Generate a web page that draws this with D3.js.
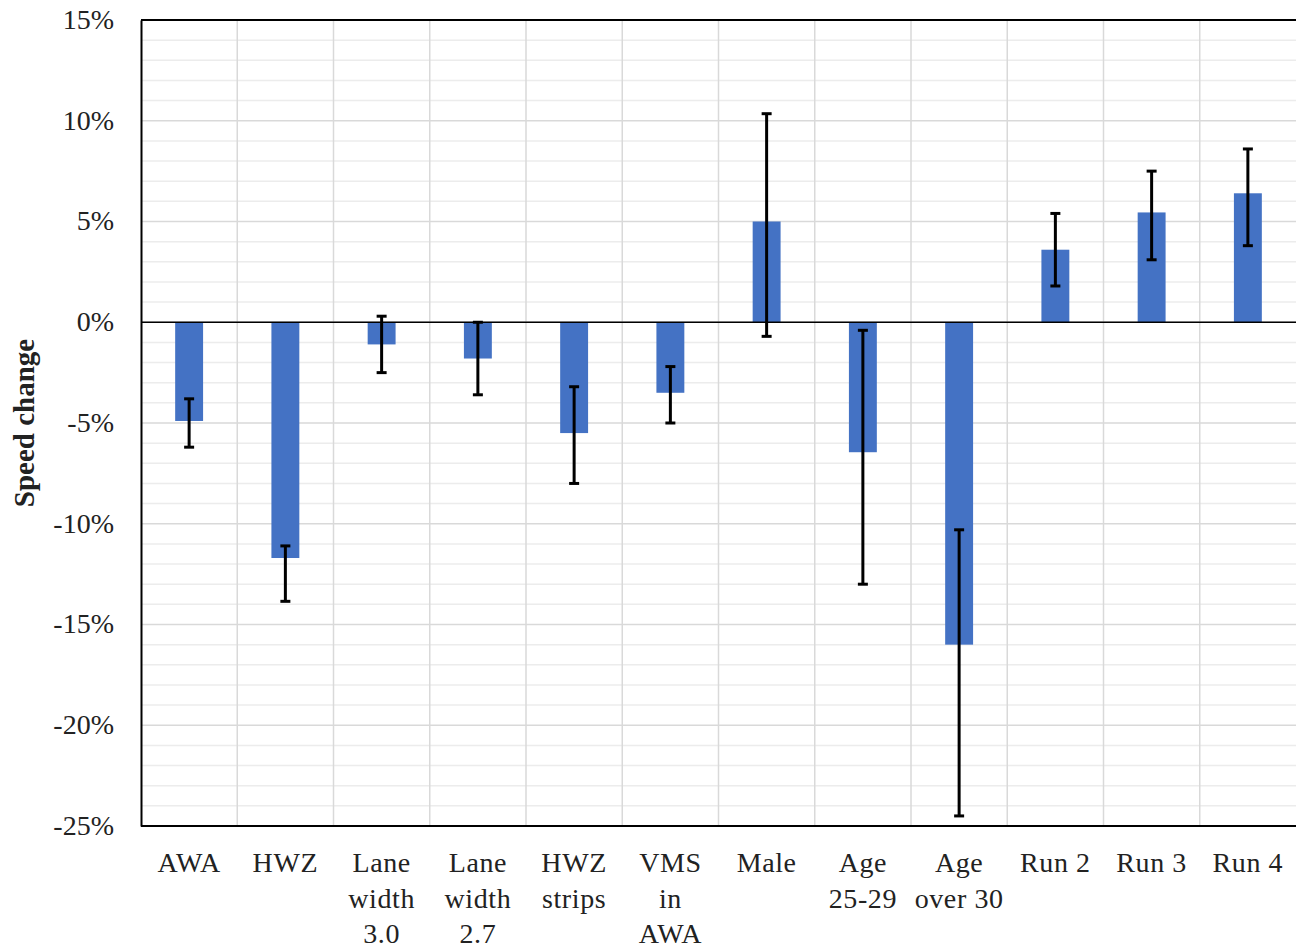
<!DOCTYPE html>
<html>
<head>
<meta charset="utf-8">
<script src="https://cdn.jsdelivr.net/npm/d3@7"></script>
<style>
  body { margin: 0; background: #fff; }
  svg { font-family: "Liberation Serif", "Times New Roman", serif; }
  .tick text { font-size: 28px; fill: #222; font-family: "Liberation Serif", "Times New Roman", serif; }
</style>
</head>
<body>
<script>
const categories = [
  ['AWA'], ['HWZ'], ['Lane', 'width', '3.0'], ['Lane', 'width', '2.7'],
  ['HWZ', 'strips'], ['VMS', 'in', 'AWA'], ['Male'], ['Age', '25-29'],
  ['Age', 'over 30'], ['Run 2'], ['Run 3'], ['Run 4']
]
const speedChange = [-4.9, -11.7, -1.1, -1.8, -5.5, -3.5, 5.0, -6.45, -16.0, 3.6, 5.45, 6.4]
const errHigh = [-3.8, -11.1, 0.3, 0.0, -3.2, -2.2, 10.35, -0.4, -10.3, 5.4, 7.5, 8.6]
const errLow = [-6.2, -13.85, -2.5, -3.6, -8.0, -5.0, -0.7, -13.0, -24.5, 1.8, 3.1, 3.8]
const yTicks = [15, 10, 5, 0, -5, -10, -15, -20, -25]

const svg = d3.select('body')
  .append('svg')
  .attr('width', 1296)
  .attr('height', 949)

const margin = { top: 20, right: 0, bottom: 123, left: 141 }
const width = +svg.attr('width') - margin.left - margin.right
const height = +svg.attr('height') - margin.top - margin.bottom

const ids = d3.range(categories.length)
const xScale = d3.scaleBand().domain(ids).range([0, width]).paddingInner(0.71).paddingOuter(0.355)
const xBand = d3.scaleBand().domain(ids).range([0, width])
const yScale = d3.scaleLinear().domain([-25, 15]).range([height, 0])

const g = svg.append('g')
  .attr('transform', 'translate(' + margin.left + ',' + margin.top + ')')

// minor gridlines (1%)
g.selectAll('.minor')
  .data(d3.range(-24, 15).filter(d => d % 5 !== 0))
  .enter()
  .append('line')
  .attr('x1', 0).attr('x2', width)
  .attr('y1', d => yScale(d)).attr('y2', d => yScale(d))
  .attr('stroke', '#ececec').attr('stroke-width', 1.5)

// major gridlines
g.selectAll('.major')
  .data(yTicks)
  .enter()
  .append('line')
  .attr('x1', 0).attr('x2', width)
  .attr('y1', d => yScale(d)).attr('y2', d => yScale(d))
  .attr('stroke', '#d9d9d9').attr('stroke-width', 1.5)

// vertical gridlines between categories
g.selectAll('.vgrid')
  .data(ids.slice(1))
  .enter()
  .append('line')
  .attr('x1', d => xBand(d)).attr('x2', d => xBand(d))
  .attr('y1', 0).attr('y2', height)
  .attr('stroke', '#d9d9d9').attr('stroke-width', 1.5)

// bars
g.selectAll('rect')
  .data(speedChange)
  .enter()
  .append('rect')
  .attr('x', (d, i) => xScale(i))
  .attr('width', xScale.bandwidth())
  .attr('y', d => yScale(Math.max(0, d)))
  .attr('height', d => Math.abs(yScale(d) - yScale(0)))
  .attr('fill', '#4472c4')

// zero line and borders
g.append('line')
  .attr('x1', 0).attr('x2', width)
  .attr('y1', yScale(0)).attr('y2', yScale(0))
  .attr('stroke', '#000').attr('stroke-width', 1.5)
g.append('line')
  .attr('x1', 0).attr('x2', width)
  .attr('y1', 0).attr('y2', 0)
  .attr('stroke', '#000').attr('stroke-width', 2)
g.append('line')
  .attr('x1', 0).attr('x2', width)
  .attr('y1', height).attr('y2', height)
  .attr('stroke', '#000').attr('stroke-width', 2)

// error bars
const cx = i => xScale(i) + xScale.bandwidth() / 2
const err = g.selectAll('.err')
  .data(ids)
  .enter()
  .append('g')
err.append('line')
  .attr('x1', cx).attr('x2', cx)
  .attr('y1', i => yScale(errHigh[i])).attr('y2', i => yScale(errLow[i]))
  .attr('stroke', '#000').attr('stroke-width', 3)
err.append('line')
  .attr('x1', i => cx(i) - 5).attr('x2', i => cx(i) + 5)
  .attr('y1', i => yScale(errHigh[i])).attr('y2', i => yScale(errHigh[i]))
  .attr('stroke', '#000').attr('stroke-width', 3)
err.append('line')
  .attr('x1', i => cx(i) - 5).attr('x2', i => cx(i) + 5)
  .attr('y1', i => yScale(errLow[i])).attr('y2', i => yScale(errLow[i]))
  .attr('stroke', '#000').attr('stroke-width', 3)

// Y-Axis
const yAxis = g.append('g')
  .call(d3.axisLeft(yScale).tickValues(yTicks).tickSize(0).tickPadding(27)
    .tickFormat(d => d + '%'))
  .attr('font-family', null)
yAxis.select('.domain').attr('stroke', '#000').attr('stroke-width', 2)
yAxis.selectAll('.tick text').attr('dy', '0.3em')

// X-Axis labels
const labels = g.selectAll('.xlabel')
  .data(ids)
  .enter()
  .append('text')
  .attr('text-anchor', 'middle')
  .attr('font-size', 28)
  .attr('letter-spacing', 0.6)
  .attr('fill', '#222')
  .attr('transform', i => 'translate(' + cx(i) + ',' + (height + 46) + ')')
labels.selectAll('tspan')
  .data(i => categories[i])
  .enter()
  .append('tspan')
  .attr('x', 0)
  .attr('y', (d, j) => j * 35.5)
  .text(d => d)

svg.append('text')
  .attr('transform', 'translate(34,' + (margin.top + yScale(-5)) + ') rotate(-90)')
  .attr('text-anchor', 'middle')
  .attr('font-size', 29)
  .attr('font-weight', 'bold')
  .attr('fill', '#222')
  .text('Speed change')
</script>
</body>
</html>
